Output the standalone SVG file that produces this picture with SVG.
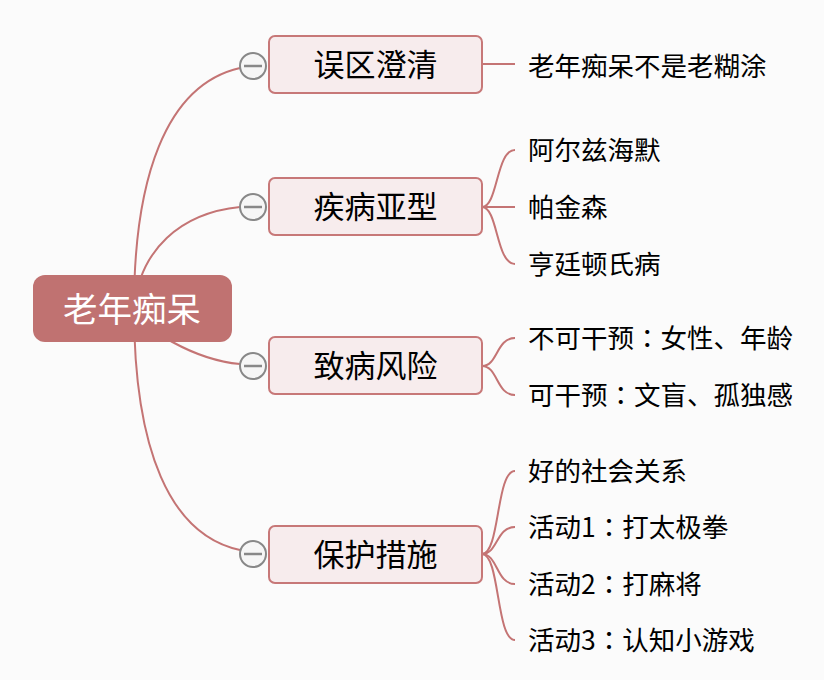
<svg xmlns="http://www.w3.org/2000/svg" width="824" height="680" viewBox="0 0 824 680">
<style>
.bg{fill:#fbfbfb}
.conn path{fill:none;stroke:#c47474;stroke-width:2}
.root rect{fill:#c07271}
.root text{fill:#ffffff;font-size:34.5px}
.br rect{fill:#f7eced;stroke:#c77878;stroke-width:2}
.br text{fill:#000;font-size:31px}
.tog circle{fill:#f6f6f6;stroke:#888;stroke-width:2}
.tog line{stroke:#888;stroke-width:2.5}
.lf text{fill:#000;font-size:26.5px}
text{font-family:"Noto Sans CJK SC","Noto Sans",sans-serif;dominant-baseline:central}
.jp{font-family:"Noto Sans CJK JP",sans-serif}
</style>
<rect class="bg" x="0" y="0" width="824" height="680"/>
<g class="conn" id="connectors">
<path d="M134,308 C134,180 165,85 240,68"/>
<path d="M134,308 C140,250 180,213 240,207"/>
<path d="M134,308 C140,328 195,360 240,364"/>
<path d="M134,308 C134,450 170,535 240,550"/>
<path d="M482,64 L515,64"/>
<path d="M482,207 C498,207 496,150 515,150"/>
<path d="M482,207 L515,207"/>
<path d="M482,207 C498,207 496,264 515,264"/>
<path d="M482,366 C498,366 496,338 515,338"/>
<path d="M482,366 C498,366 496,395 515,395"/>
<path d="M482,554 C500,554 496,471 515,471"/>
<path d="M482,554 C498,554 496,527 515,527"/>
<path d="M482,554 C498,554 496,584 515,584"/>
<path d="M482,554 C500,554 496,640 515,640"/>
</g>
<g class="root" id="root">
<rect x="33" y="275" width="199" height="67" rx="12"/>
<text x="132" y="307" text-anchor="middle">老年痴呆</text>
</g>
<g class="br" id="b1">
<rect x="269" y="36" width="213" height="57" rx="6"/>
<text x="375.5" y="62.5" text-anchor="middle">误区澄清</text>
</g>
<g class="br" id="b2">
<rect x="269" y="178" width="213" height="57" rx="6"/>
<text x="375.5" y="204.5" text-anchor="middle">疾病亚型</text>
</g>
<g class="br" id="b3">
<rect x="269" y="337" width="213" height="57" rx="6"/>
<text x="375.5" y="363.5" text-anchor="middle">致病风险</text>
</g>
<g class="br" id="b4">
<rect x="269" y="526" width="213" height="57" rx="6"/>
<text x="375.5" y="552.5" text-anchor="middle">保护措施</text>
</g>
<g class="tog" id="toggles">
<circle cx="253" cy="66" r="13"/><line x1="244" y1="66" x2="262" y2="66"/>
<circle cx="253" cy="207" r="13"/><line x1="244" y1="207" x2="262" y2="207"/>
<circle cx="253" cy="366" r="13"/><line x1="244" y1="366" x2="262" y2="366"/>
<circle cx="253" cy="554" r="13"/><line x1="244" y1="554" x2="262" y2="554"/>
</g>
<g class="lf" id="l1"><text x="528" y="64">老年痴呆不是老糊涂</text></g>
<g class="lf" id="l2"><text x="528" y="148">阿尔兹海默</text></g>
<g class="lf" id="l3"><text x="528" y="205">帕金森</text></g>
<g class="lf" id="l4"><text x="528" y="262">亨廷顿氏病</text></g>
<g class="lf" id="l5"><text x="528" y="336">不可干预<tspan class="jp">：</tspan>女性、年龄</text></g>
<g class="lf" id="l6"><text x="528" y="393">可干预<tspan class="jp">：</tspan>文盲、孤独感</text></g>
<g class="lf" id="l7"><text x="528" y="469">好的社会关系</text></g>
<g class="lf" id="l8"><text x="528" y="525">活动1<tspan class="jp">：</tspan>打太极拳</text></g>
<g class="lf" id="l9"><text x="528" y="582">活动2<tspan class="jp">：</tspan>打麻将</text></g>
<g class="lf" id="l10"><text x="528" y="638">活动3<tspan class="jp">：</tspan>认知小游戏</text></g>
</svg>
